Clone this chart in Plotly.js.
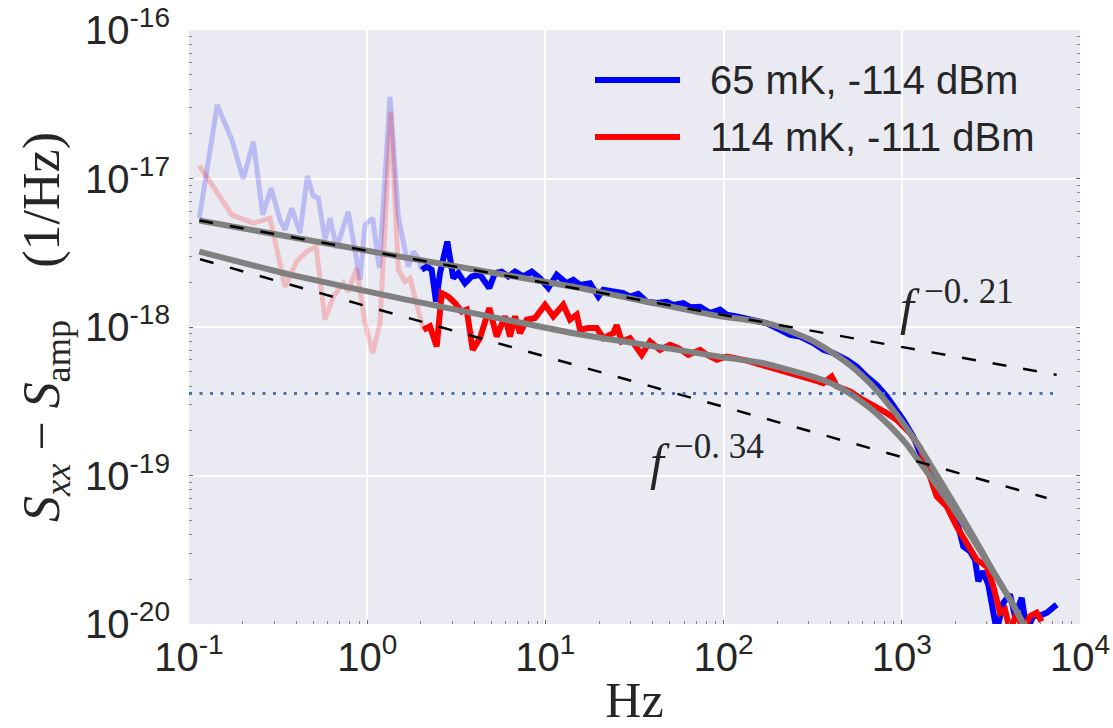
<!DOCTYPE html>
<html>
<head>
<meta charset="utf-8">
<script src="https://cdn.plot.ly/plotly-3.0.1.min.js"></script>
<style>
  html, body { margin: 0; padding: 0; background: #ffffff; }
  #chart { width: 1113px; height: 728px; }
</style>
</head>
<body>
<div id="chart"></div>
<script>
// Low-frequency part of each spectrum (drawn faint)
const blueFaintHz = [0.1143, 0.144, 0.174, 0.2017, 0.2296, 0.2593, 0.2885, 0.3242, 0.3458, 0.377, 0.4198, 0.4613, 0.4983, 0.5316, 0.5797, 0.6181, 0.6743, 0.783, 0.911, 0.972, 1.074, 1.169, 1.343, 1.494, 1.701, 1.814, 1.935, 2.022];
const blueFaintS = [5.41e-18, 3.13e-17, 1.82e-17, 9.89e-18, 1.77e-17, 5.69e-18, 8.61e-18, 5.27e-18, 4.51e-18, 6.31e-18, 4.29e-18, 1.04e-17, 7.64e-18, 7.37e-18, 3.86e-18, 5.41e-18, 3.40e-18, 5.99e-18, 2.08e-18, 4.87e-18, 5.41e-18, 2.49e-18, 3.56e-17, 5.54e-18, 2.55e-18, 3.22e-18, 2.91e-18, 2.43e-18];

const redFaintHz = [0.1143, 0.140, 0.174, 0.2296, 0.2847, 0.3458, 0.4022, 0.4575, 0.5161, 0.5797, 0.6453, 0.7344, 0.783, 0.8732, 0.972, 1.074, 1.180, 1.355, 1.494, 1.630, 1.739, 1.807, 1.978, 2.064];
const redFaintS = [1.22e-17, 8.38e-18, 5.69e-18, 5.00e-18, 5.41e-18, 1.87e-18, 2.76e-18, 3.22e-18, 3.48e-18, 1.12e-18, 1.60e-18, 1.97e-18, 1.73e-18, 2.49e-18, 1.06e-18, 6.68e-19, 1.06e-18, 2.82e-17, 2.43e-18, 2.02e-18, 2.13e-18, 1.78e-18, 1.15e-18, 9.58e-19];

// 65 mK, -114 dBm
const blueHz = [2.022, 2.158, 2.301, 2.433, 2.562, 2.816, 3.043, 3.245, 3.538, 3.858, 4.295, 4.844, 5.214, 5.685, 6.191, 6.751, 7.516, 8.379, 9.326, 10.38, 11.57, 13.17, 14.34, 15.64, 17.79, 19.82, 21.13, 24.05, 27.36, 29.84, 33.21, 37.03, 42.13, 47.94, 52.2, 59.4, 64.8, 73.7, 83.9, 95.4, 104.1, 118.4, 140.6, 174.5, 207.3, 235.9, 268.4, 318.7, 362.7, 412.7, 490.8, 558.4, 635.3, 722.9, 823.0, 936.3, 1019, 1160, 1380, 1639, 1945, 2075, 2214, 2414, 2576, 2688, 2867, 3058, 3408, 3712, 4048, 4317, 4708, 5022, 5468, 5965, 6504, 7400];
const blueS = [2.43e-18, 2.55e-18, 2.43e-18, 1.48e-18, 2.31e-18, 3.76e-18, 2.13e-18, 2.31e-18, 1.97e-18, 2.19e-18, 2.25e-18, 1.83e-18, 2.31e-18, 2.36e-18, 2.19e-18, 2.36e-18, 2.19e-18, 2.36e-18, 2.13e-18, 1.83e-18, 2.25e-18, 1.97e-18, 2.08e-18, 1.92e-18, 1.97e-18, 1.60e-18, 1.78e-18, 1.73e-18, 1.69e-18, 1.60e-18, 1.67e-18, 1.48e-18, 1.45e-18, 1.48e-18, 1.41e-18, 1.45e-18, 1.36e-18, 1.37e-18, 1.24e-18, 1.31e-18, 1.21e-18, 1.18e-18, 1.12e-18, 1.06e-18, 9.58e-19, 8.86e-19, 8.63e-19, 7.79e-19, 7.02e-19, 6.68e-19, 6.02e-19, 5.42e-19, 4.64e-19, 4.08e-19, 3.41e-19, 2.77e-19, 2.37e-19, 1.83e-19, 1.09e-19, 8.02e-20, 5.59e-20, 4.54e-20, 3.33e-20, 3.08e-20, 2.71e-20, 1.94e-20, 2.26e-20, 1.84e-20, 9.0e-21, 1.39e-20, 1.58e-20, 1.13e-20, 1.50e-20, 9.0e-21, 1.13e-20, 1.14e-20, 1.19e-20, 1.35e-20];

// 114 mK, -111 dBm
const redHz = [2.064, 2.251, 2.455, 2.619, 2.852, 3.110, 3.391, 3.617, 3.908, 4.295, 4.844, 5.330, 5.933, 6.328, 6.751, 7.203, 7.852, 8.744, 9.95, 11.07, 12.60, 13.74, 14.98, 15.64, 17.40, 19.41, 21.13, 24.05, 25.13, 26.80, 29.84, 34.70, 38.64, 43.97, 50.03, 55.69, 63.38, 73.7, 80.4, 91.5, 104.1, 118.4, 137.1, 174.5, 235.9, 268.4, 318.7, 362.7, 404.3, 431.2, 512.2, 582.7, 692, 823.0, 936.3, 1112, 1265, 1440, 1570, 1786, 2032, 2313, 2633, 2995, 3262, 3557, 3795, 4048, 4414, 4800, 5240, 5715, 6095];
const redS = [9.58e-19, 1.01e-18, 7.39e-19, 1.69e-18, 1.60e-18, 1.45e-18, 1.27e-18, 1.31e-18, 7.02e-19, 8.42e-19, 1.34e-18, 8.63e-19, 1.18e-18, 8.63e-19, 1.18e-18, 9.10e-19, 1.12e-18, 1.15e-18, 1.41e-18, 1.18e-18, 1.41e-18, 1.12e-18, 1.21e-18, 9.58e-19, 9.83e-19, 9.83e-19, 8.42e-19, 9.10e-19, 1.03e-18, 7.99e-19, 8.42e-19, 6.50e-19, 7.99e-19, 7.02e-19, 7.59e-19, 7.21e-19, 6.50e-19, 7.02e-19, 6.50e-19, 6.02e-19, 6.33e-19, 6.18e-19, 5.92e-19, 5.42e-19, 4.90e-19, 4.77e-19, 4.41e-19, 4.19e-19, 4.64e-19, 3.98e-19, 3.68e-19, 3.32e-19, 2.99e-19, 2.63e-19, 2.37e-19, 1.93e-19, 1.54e-19, 9.37e-20, 7.23e-20, 6.19e-20, 4.54e-20, 3.51e-20, 2.71e-20, 2.44e-20, 1.79e-20, 1.19e-20, 1.25e-20, 9.0e-21, 1.19e-20, 9.0e-21, 1.13e-20, 1.19e-20, 1.04e-20];

// Fitted model curves
const fitTopHz = [0.1143, 1.528, 15.64, 37.03, 95.4, 130, 160, 200, 246, 300, 379, 450, 520, 583, 660, 755, 860, 977, 1120, 1265, 1502, 1945, 2519, 3262, 4224, 4913];
const fitTopS = [5.21e-18, 2.98e-18, 1.83e-18, 1.48e-18, 1.18e-18, 1.125e-18, 1.085e-18, 1.015e-18, 9.20e-19, 8.33e-19, 7.10e-19, 6.20e-19, 5.45e-19, 4.85e-19, 4.20e-19, 3.52e-19, 2.92e-19, 2.40e-19, 1.91e-19, 1.54e-19, 1.10e-19, 6.60e-20, 3.90e-20, 2.26e-20, 1.34e-20, 9.60e-21];
const fitBotHz = [0.1143, 0.3688, 1.528, 4.844, 15.64, 50, 95.4, 160, 246, 300, 379, 450, 534, 640, 755, 900, 1065, 1380, 1945, 2519, 3262, 4224, 4913];
const fitBotS = [3.22e-18, 2.25e-18, 1.56e-18, 1.18e-18, 8.90e-19, 7.15e-19, 6.30e-19, 5.77e-19, 5.05e-19, 4.72e-19, 4.29e-19, 3.90e-19, 3.45e-19, 2.94e-19, 2.49e-19, 2.03e-19, 1.62e-19, 1.06e-19, 6.00e-20, 3.70e-20, 2.24e-20, 1.34e-20, 9.50e-21];

// Power-law guides and amplifier floor
const guide021Hz = [0.1143, 7396];
const guide021S = [5.21e-18, 4.76e-19];
const guide034Hz = [0.1153, 6500];
const guide034S = [2.86e-18, 7.06e-20];
const floorHz = [0.1, 7400];
const floorS = [3.56e-19, 3.56e-19];

// Axis ticks
const xTickVals = [0.1, 1, 10, 100, 1000, 10000];
const xTickText = ['10<sup>-1</sup>', '10<sup>0</sup>', '10<sup>1</sup>', '10<sup>2</sup>', '10<sup>3</sup>', '10<sup>4</sup>'];
const yTickVals = [1e-20, 1e-19, 1e-18, 1e-17, 1e-16];
const yTickText = ['10<sup>-20</sup>', '10<sup>-19</sup>', '10<sup>-18</sup>', '10<sup>-17</sup>', '10<sup>-16</sup>'];

const legendNames = ['65 mK, -114 dBm', '114 mK, -111 dBm'];

function minorLogTicks(lo, hi) {
  const out = [];
  for (let e = lo; e < hi; e++) {
    for (let m = 2; m <= 9; m++) out.push(m * Math.pow(10, e));
  }
  return out;
}

const TXT = '#262626';
const SANS = 'Liberation Sans, Arial, sans-serif';
const SERIF = 'Liberation Serif, Times New Roman, serif';

const traces = [
  { x: blueFaintHz, y: blueFaintS, mode: 'lines', line: { color: '#0000ff', width: 5 }, opacity: 0.2, hoverinfo: 'skip' },
  { x: redFaintHz, y: redFaintS, mode: 'lines', line: { color: '#ff0000', width: 5 }, opacity: 0.2, hoverinfo: 'skip' },
  { x: blueHz, y: blueS, mode: 'lines', name: legendNames[0], line: { color: '#0000ff', width: 6 } },
  { x: redHz, y: redS, mode: 'lines', name: legendNames[1], line: { color: '#ff0000', width: 6 } },
  { x: fitTopHz, y: fitTopS, mode: 'lines', line: { color: '#808080', width: 6, shape: 'spline', smoothing: 0.5 } },
  { x: fitBotHz, y: fitBotS, mode: 'lines', line: { color: '#808080', width: 6, shape: 'spline', smoothing: 0.5 } },
  { x: guide021Hz, y: guide021S, mode: 'lines', line: { color: '#000000', width: 2.5, dash: '14px,17px' } },
  { x: guide034Hz, y: guide034S, mode: 'lines', line: { color: '#000000', width: 2.5, dash: '14px,17px' } },
  { x: floorHz, y: floorS, mode: 'lines', line: { color: '#4C72B0', width: 3, dash: '3px,7.5px' } }
];

const L = 189, T = 30, W = 891, H = 594;
const px = v => (v - L) / W;
const py = v => 1 - (v - T) / H;

const layout = {
  width: 1113, height: 728,
  margin: { l: L, r: 1113 - L - W, t: T, b: 728 - T - H },
  paper_bgcolor: '#ffffff',
  plot_bgcolor: '#EAEAF2',
  showlegend: false,
  xaxis: {
    type: 'log', range: [-1, 4], tickmode: 'array', tickvals: xTickVals, ticktext: xTickText,
    showgrid: true, gridcolor: '#ffffff', gridwidth: 2, zeroline: false, showline: false,
    ticks: 'inside', ticklen: 4, tickwidth: 1, tickcolor: '#666666',
    minor: { tickmode: 'array', tickvals: minorLogTicks(-1, 4), ticks: 'inside', ticklen: 3, tickwidth: 1, tickcolor: '#888888', showgrid: false },
    tickfont: { family: 'Liberation Sans Narrow, ' + SANS, size: 40, color: TXT },
    ticklabelstandoff: 6,
    title: { text: 'Hz', font: { family: SERIF, size: 50, color: TXT }, standoff: 4 }
  },
  yaxis: {
    type: 'log', range: [-20, -16], tickmode: 'array', tickvals: yTickVals, ticktext: yTickText,
    showgrid: true, gridcolor: '#ffffff', gridwidth: 2, zeroline: false, showline: false,
    ticks: 'inside', ticklen: 4, tickwidth: 1, tickcolor: '#666666', mirror: 'ticks',
    minor: { tickmode: 'array', tickvals: minorLogTicks(-20, -16), ticks: 'inside', ticklen: 3, tickwidth: 1, tickcolor: '#888888', showgrid: false },
    tickfont: { family: SANS, size: 40, color: TXT },
    ticklabelstandoff: 18,
    title: {
      text: '<i>S</i><sub><i>xx</i></sub> \u2212 <i>S</i><sub>amp</sub>\u00a0\u00a0\u00a0\u00a0(1/Hz)',
      font: { family: SERIF, size: 52, color: TXT }, standoff: 8
    }
  },
  shapes: [
    { type: 'line', xref: 'paper', yref: 'paper', x0: px(595), x1: px(680), y0: py(80), y1: py(80), line: { color: '#0000ff', width: 6 } },
    { type: 'line', xref: 'paper', yref: 'paper', x0: px(595), x1: px(680), y0: py(137), y1: py(137), line: { color: '#ff0000', width: 6 } }
  ],
  annotations: [
    { xref: 'paper', yref: 'paper', x: px(708), y: py(80), xanchor: 'left', yanchor: 'middle', showarrow: false,
      text: legendNames[0], font: { family: SANS, size: 40, color: TXT } },
    { xref: 'paper', yref: 'paper', x: px(708), y: py(137), xanchor: 'left', yanchor: 'middle', showarrow: false,
      text: legendNames[1], font: { family: SANS, size: 40, color: TXT } },
    { xref: 'paper', yref: 'paper', x: px(898), y: py(303), xanchor: 'left', yanchor: 'middle', showarrow: false,
      text: '<i>f</i>\u2009<sup>\u22120. 21</sup>', font: { family: SERIF, size: 50, color: TXT } },
    { xref: 'paper', yref: 'paper', x: px(648), y: py(458), xanchor: 'left', yanchor: 'middle', showarrow: false,
      text: '<i>f</i>\u2009<sup>\u22120. 34</sup>', font: { family: SERIF, size: 50, color: TXT } }
  ]
};

Plotly.newPlot('chart', traces, layout, { staticPlot: true, displayModeBar: false });
</script>
</body>
</html>
